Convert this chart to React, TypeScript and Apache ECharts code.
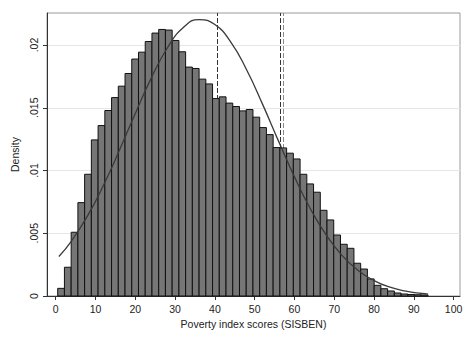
import React, { useEffect, useRef } from "react";
import * as echarts from "echarts";

// Histogram: bins start at 0.5, width ~1.692 (55 bins)
const binStart = 0.5;
const binWidth = 1.692;
const densities = [
  0.00061, 0.00229, 0.00508, 0.00744, 0.0097, 0.01244, 0.01358, 0.01478, 0.01581, 0.01672,
  0.01773, 0.01888, 0.01943, 0.02028, 0.02095, 0.02124, 0.02119, 0.02036, 0.01946, 0.01824,
  0.01813, 0.01728, 0.0169, 0.01573, 0.01587, 0.01537, 0.0151, 0.01475, 0.01486, 0.01425,
  0.01342, 0.01286, 0.01183, 0.0118, 0.01138, 0.01092, 0.0097, 0.00893, 0.00827, 0.00683,
  0.00606, 0.00486, 0.00412, 0.0038, 0.00261, 0.00215, 0.00136, 0.00085, 0.00058, 0.0004,
  0.00024, 0.00016, 0.00012, 0.0001, 0.00008,
];

// Overlaid normal density curve
const curveX = [0.8, 4, 8, 12, 16, 20, 24, 28, 32, 36, 40, 44, 48, 52, 56, 60, 64, 68, 72, 76, 80, 84, 88, 92, 93.6];
const curveY = [
  0.00315, 0.0044, 0.00638, 0.00882, 0.01161, 0.01455, 0.01736, 0.01974, 0.02137, 0.02203,
  0.02163, 0.02023, 0.01801, 0.01527, 0.01234, 0.00949, 0.00695, 0.00485, 0.00322, 0.00204,
  0.00123, 0.0007, 0.00039, 0.0002, 0.00015,
];

// Vertical dashed reference lines
const refLines = [40.7, 56.4, 57.1];
const refColors = ["#333333", "#333333", "#8a8a8a"];

const xTicks = [0, 10, 20, 30, 40, 50, 60, 70, 80, 90, 100];
const yTicks = [0, 0.005, 0.01, 0.015, 0.02];
const yTickLabels = ["0", ".005", ".01", ".015", ".02"];

const FONT = "Liberation Sans, Arial, Helvetica, sans-serif";

export default function App() {
  const ref = useRef<HTMLDivElement>(null);
  useEffect(() => {
    document.body.style.margin = "0";
    if (!ref.current) return;
    const chart = echarts.init(ref.current, undefined, { renderer: "svg" });
    const histData = densities.map((d, i) => [binStart + i * binWidth, binStart + (i + 1) * binWidth, d]);
    chart.setOption({
      animation: false,
      backgroundColor: "#ffffff",
      textStyle: { fontFamily: FONT },
      grid: {
        left: 47,
        right: 13,
        top: 13,
        bottom: 48,
        show: true,
        borderColor: "#9a9a9a",
        borderWidth: 1,
        backgroundColor: "transparent",
      },
      xAxis: {
        type: "value",
        min: -2.19,
        max: 101.6,
        name: "Poverty index scores (SISBEN)",
        nameLocation: "middle",
        nameGap: 21,
        nameTextStyle: { fontFamily: FONT, fontSize: 10.5, color: "#222" },
        axisLine: { show: true, onZero: false, lineStyle: { color: "#333", width: 1 } },
        axisTick: { show: true, customValues: xTicks, length: 4, lineStyle: { color: "#333" } },
        axisLabel: {
          customValues: xTicks,
          fontFamily: FONT,
          fontSize: 10.5,
          color: "#222",
          margin: 7,
        },
        splitLine: { show: false },
      },
      yAxis: {
        type: "value",
        min: 0,
        max: 0.02255,
        interval: 0.005,
        name: "Density",
        nameLocation: "middle",
        nameRotate: 90,
        nameGap: 22,
        nameTextStyle: { fontFamily: FONT, fontSize: 10.5, color: "#222" },
        axisLine: { show: true, onZero: false, lineStyle: { color: "#333", width: 1 } },
        axisTick: { show: true, customValues: yTicks, length: 4, lineStyle: { color: "#333" } },
        axisLabel: {
          customValues: yTicks,
          rotate: 90,
          fontFamily: FONT,
          fontSize: 10.5,
          color: "#222",
          margin: 8,
          formatter: (v: number) => {
            const idx = yTicks.findIndex((t) => Math.abs(t - v) < 1e-9);
            return idx >= 0 ? yTickLabels[idx] : "";
          },
        },
        splitLine: { show: true, lineStyle: { color: "#e6e6e6", width: 1 } },
      },
      series: [
        {
          type: "line",
          data: [],
          z: 1,
          silent: true,
          markLine: {
            z: 1,
            silent: true,
            symbol: ["none", "none"],
            label: { show: false },
            data: refLines.map((x, i) => ({
              xAxis: x,
              lineStyle: { color: refColors[i], type: [5, 2], width: 1 },
            })),
          },
        },
        {
          type: "custom",
          z: 10,
          silent: true,
          encode: { x: [0, 1], y: 2 },
          data: histData,
          renderItem: (params: any, api: any) => {
            const x0 = api.value(0);
            const x1 = api.value(1);
            const h = api.value(2);
            const p0 = api.coord([x0, h]);
            const p1 = api.coord([x1, 0]);
            return {
              type: "rect",
              shape: { x: p0[0], y: p0[1], width: p1[0] - p0[0], height: p1[1] - p0[1] },
              style: { fill: "#767676", stroke: "#111111", lineWidth: 1 },
            };
          },
        },
        {
          type: "line",
          z: 11,
          silent: true,
          smooth: true,
          showSymbol: false,
          data: curveX.map((x, i) => [x, curveY[i]]),
          lineStyle: { color: "#3a3a3a", width: 1.3 },
        },
      ],
    });
    return () => chart.dispose();
  }, []);
  return <div ref={ref} style={{ width: 473, height: 344 }} />;
}
